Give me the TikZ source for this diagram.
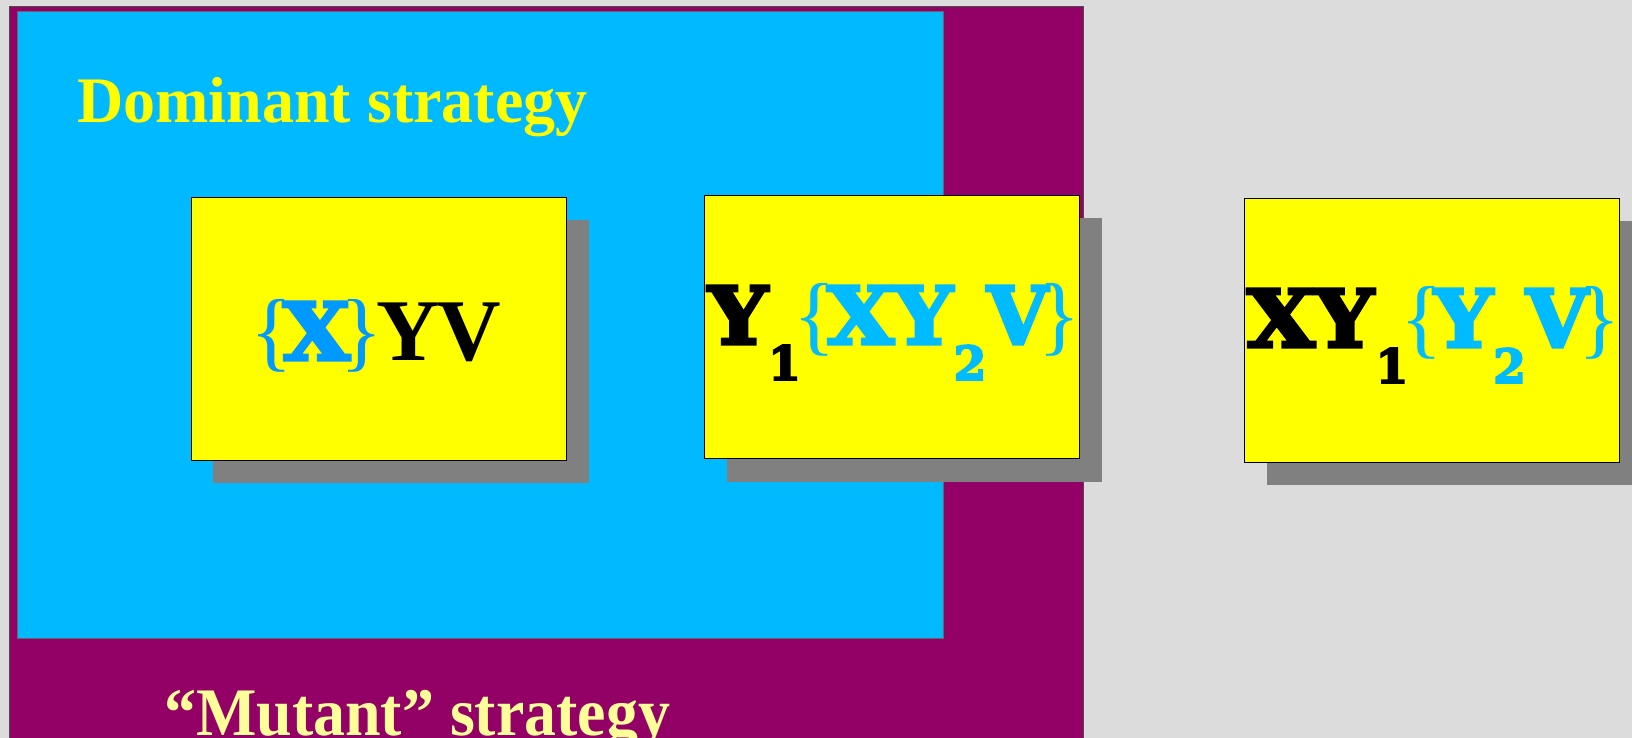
\documentclass[tikz,border=0pt]{standalone}
\usepackage{graphicx}
\usepackage{fontspec}
\setmainfont{Liberation Serif}
\newfontfamily\slabfont[BoldFont={DejaVu Serif Bold}, BoldFeatures={FakeBold=4}]{DejaVu Serif}
\definecolor{pagebg}{HTML}{DCDCDC}
\definecolor{mutantbg}{HTML}{930066}
\definecolor{dominantbg}{HTML}{00B9FF}
\definecolor{cardfill}{HTML}{FFFF00}
\definecolor{cardshadow}{HTML}{808080}
\definecolor{titleyellow}{HTML}{FFFF00}
\definecolor{paleyellow}{HTML}{FFFF99}
\definecolor{setblue}{HTML}{0099FF}
\definecolor{setcyan}{HTML}{00BBFF}
% glyph helpers for the strategy strings: each glyph sits centred in a cell of given width
\newcommand\cell[2]{\makebox[#1pt]{#2}}
\newcommand\glyphbig[2]{\cell{#1}{\resizebox{#1pt}{58pt}{\slabfont\bfseries\fontsize{80}{90}\selectfont #2}}}
\newcommand\glyphsub[2]{\cell{#1}{\raisebox{-36pt}{\slabfont\bfseries\fontsize{47}{50}\selectfont #2}}}
\newcommand\glyphbrace[2]{\cell{#1}{\fontsize{88}{90}\selectfont #2}}
\newcommand\glyphtimes[2]{\cell{#1}{\bfseries\fontsize{88}{90}\selectfont #2}}
\tikzset{
  card/.style={fill=cardfill, draw=black, line width=0.8pt},
  cardshade/.style={fill=cardshadow},
  label/.style={anchor=base west, inner sep=0pt, outer sep=0pt},
  title/.style={anchor=base west, inner sep=0pt, font=\bfseries\fontsize{65}{70}\selectfont}
}
\begin{document}
\begin{tikzpicture}[x=1pt,y=-1pt]
\useasboundingbox (0,0) rectangle (1632,738);
\fill[pagebg] (0,0) rectangle (1632,738);
% outer region: mutant strategy
\fill[mutantbg, draw=black!70, line width=0.8pt] (9,6) rectangle (1083,760);
% inner region: dominant strategy
\fill[dominantbg, draw=black!60, line width=0.8pt] (17,11) rectangle (943,638);
\node[title, text=titleyellow, xscale=0.985] (dom) at (77,123) {Dominant strategy};
\node[title, text=paleyellow, xscale=0.94, font=\bfseries\fontsize{68}{72}\selectfont] (mut) at (164,735) {``Mutant'' strategy};
% card 1
\fill[cardshade] (213,220) rectangle (589,483);
\draw[card] (191,197) rectangle (566,460);
\node[label] (s1) at (260,360) {\color{setblue}\glyphbrace{23}{\{}\glyphbig{67}{X}\glyphbrace{23}{\}}\kern5pt\color{black}\glyphtimes{60}{Y}\glyphtimes{62}{V}};
% card 2
\fill[cardshade] (727,218) rectangle (1102,482);
\draw[card] (704,195) rectangle (1079,458);
\node[label] (s2) at (708,344) {\glyphbig{60}{Y}\kern5pt\glyphsub{23}{1}\kern7pt\color{setcyan}\glyphbrace{24}{\{}\glyphbig{67}{X}\glyphbig{59}{Y}\kern2pt\glyphsub{30}{2}\kern2pt\glyphbig{61}{V}\glyphbrace{24}{\}}};
% card 3
\fill[cardshade] (1267,221) rectangle (1632,485);
\draw[card] (1244,198) rectangle (1619,462);
\node[label] (s3) at (1247,347) {\glyphbig{68}{X}\glyphbig{59}{Y}\kern7pt\glyphsub{22}{1}\kern7pt\color{setcyan}\glyphbrace{24}{\{}\glyphbig{59}{Y}\kern2pt\glyphsub{29}{2}\kern2pt\glyphbig{62}{V}\glyphbrace{24}{\}}};
\end{tikzpicture}
\end{document}
